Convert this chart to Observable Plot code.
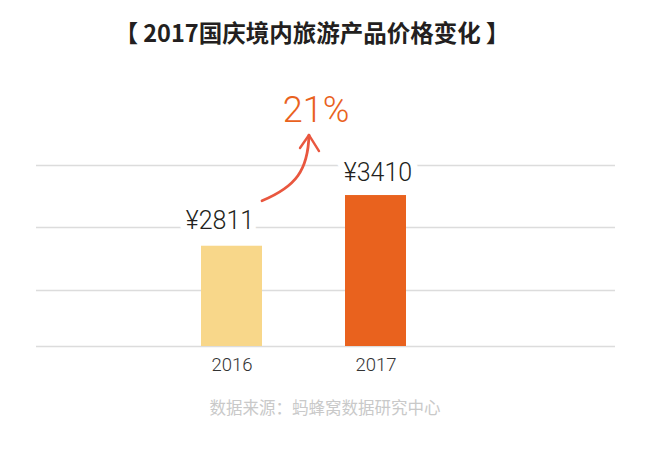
<!DOCTYPE html>
<html><head><meta charset="utf-8">
<script src="https://cdn.jsdelivr.net/npm/d3@7"></script>
<script src="https://cdn.jsdelivr.net/npm/@observablehq/plot@0.6"></script>
<style>
body{margin:0;background:#fff;width:650px;}
#title{height:60px;box-sizing:border-box;padding-top:3px;padding-right:26px;display:flex;align-items:center;justify-content:center;font-family:"Noto Sans CJK SC",sans-serif;font-weight:700;font-size:23.5px;color:#231f20;}
#caption{height:34px;line-height:34px;text-align:center;font-family:"Noto Sans CJK SC",sans-serif;font-size:16.5px;color:#c9c9c9;}
#chart svg{display:block;}
</style></head><body>
<div id="title">【 2017国庆境内旅游产品价格变化 】</div>
<div id="chart"></div>
<div id="caption">数据来源：蚂蜂窝数据研究中心</div>
<script>
const years = ["2016", "2017"];
const prices = [2811, 3410];
const barColors = ["#f8d78a", "#e9621e"];
const gridValues = [1626, 2288, 3033, 3765];
const valueLabels = ["¥2811", "¥3410"];

const data = years.map((year, i) => ({year, price: prices[i], label: valueLabels[i]}));
const growth = Math.round((prices[1] - prices[0]) / prices[0] * 100) + "%";
const yMin = gridValues[0];

function growthArrow(index, scales) {
  const x = scales.x, y = scales.y;
  const bw = x.bandwidth();
  const sx = x(years[0]) + bw, sy = y(prices[0]) - 45;
  const ex = x(years[1]) - 36, ey = y(prices[1]) - 60;
  const g = d3.create("svg:g")
    .attr("fill", "none").attr("stroke", "#e9573f")
    .attr("stroke-linecap", "round").attr("stroke-linejoin", "round");
  g.append("path")
    .attr("stroke-width", 2.8)
    .attr("d", `M${sx},${sy} C${sx + 34},${sy - 14} ${ex - 1},${ey + 35} ${ex},${ey}`);
  g.append("path")
    .attr("stroke-width", 2.4)
    .attr("d", `M${ex - 9},${ey + 13} L${ex},${ey} L${ex + 10},${ey + 16}`);
  return g.node();
}

const labelFont = {fontFamily: "Roboto, 'Liberation Sans', sans-serif", fontWeight: 300};

const chart = Plot.plot({
  width: 650,
  height: 330,
  marginLeft: 36,
  marginRight: 35,
  marginTop: 20,
  marginBottom: 44,
  x: {type: "band", domain: years, range: [201, 406.5], paddingInner: 0.578, paddingOuter: 0, label: null},
  y: {domain: [gridValues[0], gridValues[3]], range: [286, 105], axis: null},
  style: {background: "#fff"},
  marks: [
    Plot.ruleY(gridValues, {stroke: "#dcdcdc", strokeWidth: 1.6}),
    Plot.barY(data, {x: "year", y1: yMin, y2: "price", fill: (d) => barColors[years.indexOf(d.year)]}),
    Plot.text(data.filter((d) => d.year === years[0]), {
      x: "year", y: "price", text: "label", dx: -12, dy: -17, lineAnchor: "bottom",
      fontSize: 25, fill: "#231f20", stroke: "white", strokeWidth: 14, ...labelFont
    }),
    Plot.text(data.filter((d) => d.year === years[1]), {
      x: "year", y: "price", text: "label", dx: 2, dy: -15, lineAnchor: "bottom",
      fontSize: 25, fill: "#231f20", stroke: "white", strokeWidth: 14, ...labelFont
    }),
    Plot.text([growth], {
      x: () => years[1], y: () => prices[1], text: (d) => d, dx: -60, dy: -74, lineAnchor: "bottom",
      fontSize: 36, fill: "#e9621e", ...labelFont
    }),
    growthArrow,
    Plot.axisX({tickSize: 0, tickPadding: 11, fontSize: 18.5, fill: "#333",
      fontFamily: "Roboto, 'Liberation Sans', sans-serif", fontWeight: 300, label: null})
  ]
});
document.getElementById("chart").append(chart);
</script>
</body></html>
